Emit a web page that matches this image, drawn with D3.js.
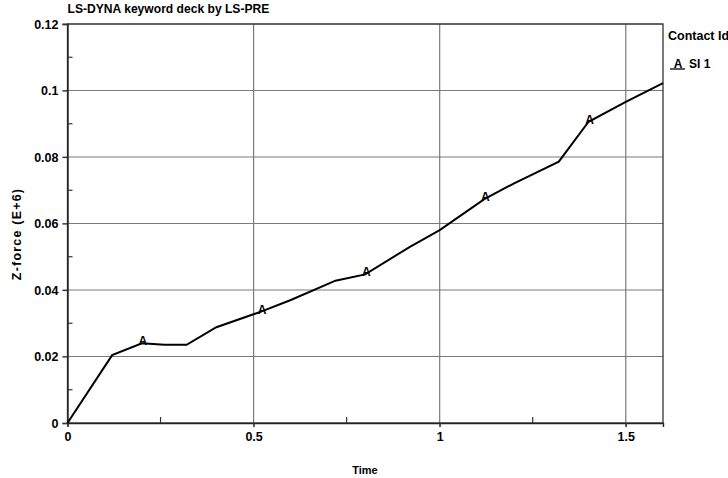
<!DOCTYPE html>
<html><head><meta charset="utf-8">
<script src="https://cdn.jsdelivr.net/npm/d3@7"></script>
<style>body{margin:0;background:#fff;}svg{display:block;font-family:"Liberation Sans",Arial,sans-serif;font-weight:bold;}</style>
</head><body>
<svg id="c" width="728" height="478"></svg>
<script>
const times  = [0, 0.12, 0.2, 0.26, 0.32, 0.4, 0.52, 0.6, 0.72, 0.8, 0.92, 1.0, 1.12, 1.2, 1.32, 1.4, 1.5, 1.6];
const zforce = [0, 0.0204, 0.024, 0.0235, 0.0235, 0.0288, 0.0335, 0.037, 0.0428, 0.0447, 0.053, 0.058, 0.0673, 0.0721, 0.0786, 0.0906, 0.0966, 0.1022];
const markerIdx = [2, 6, 9, 12, 15];
const xTicks = [0, 0.5, 1, 1.5];
const xMinor = [0.25, 0.75, 1.25];
const yTicks = [0, 0.02, 0.04, 0.06, 0.08, 0.1, 0.12];
const yMinor = [0.01, 0.03, 0.05, 0.07, 0.09, 0.11];
const title = "LS-DYNA keyword deck by LS-PRE";
const legendTitle = "Contact Id";
const seriesName = "SI 1";

const svg = d3.select("#c");
const L = 67.5, R = 663, T = 24, B = 423;
const x = d3.scaleLinear().domain([0, 1.6]).range([L, R]);
const y = d3.scaleLinear().domain([0, 0.12]).range([B, T]);

// grid
svg.append("g").selectAll("line").data(xTicks.slice(1)).join("line")
  .attr("x1", d => x(d)).attr("x2", d => x(d)).attr("y1", T).attr("y2", B + 4)
  .attr("stroke", "#7a7a7a").attr("stroke-width", 1.2);
svg.append("g").selectAll("line").data(yTicks.slice(1)).join("line")
  .attr("x1", L - 5).attr("x2", R).attr("y1", d => y(d)).attr("y2", d => y(d))
  .attr("stroke", "#7a7a7a").attr("stroke-width", 1.2);
// frame
svg.append("rect").attr("x", L).attr("y", T).attr("width", R - L).attr("height", B - T)
  .attr("fill", "none").attr("stroke", "#333").attr("stroke-width", 1.3);
// axes
const xAxis = d3.axisBottom(x).tickValues(xTicks).tickSize(4).tickPadding(5).tickFormat(d3.format("~g"));
const gx = svg.append("g").attr("transform", `translate(0,${B})`).call(xAxis);
const yAxis = d3.axisLeft(y).tickValues(yTicks).tickSize(5).tickPadding(4).tickFormat(d3.format("~g"));
const gy = svg.append("g").attr("transform", `translate(${L},0)`).call(yAxis);
[gx, gy].forEach(g => {
  g.select(".domain").attr("stroke", "#222").attr("stroke-width", 1.4);
  g.selectAll(".tick line").attr("stroke", "#333").attr("stroke-width", 1.2);
  g.selectAll("text").attr("fill", "#000").style("font-size", "12.5px").style("font-weight", "bold")
    .style("font-family", '"Liberation Sans",Arial,sans-serif');
});
// minor ticks (inward)
svg.append("g").selectAll("line").data(xMinor).join("line")
  .attr("x1", d => x(d)).attr("x2", d => x(d)).attr("y1", B).attr("y2", B - 6)
  .attr("stroke", "#333").attr("stroke-width", 1.2);
svg.append("g").selectAll("line").data(yMinor).join("line")
  .attr("x1", L).attr("x2", L + 5).attr("y1", d => y(d)).attr("y2", d => y(d))
  .attr("stroke", "#333").attr("stroke-width", 1.2);

// data line
const pts = times.map((t, i) => [t, zforce[i]]);
svg.append("path").datum(pts)
  .attr("d", d3.line().x(d => x(d[0])).y(d => y(d[1])))
  .attr("fill", "none").attr("stroke", "#000").attr("stroke-width", 2);
svg.append("g").selectAll("text").data(markerIdx).join("text")
  .attr("x", i => x(times[i]) + 1).attr("y", i => y(zforce[i]) + 2)
  .attr("text-anchor", "middle").style("font-size", "12px").text("A");

// titles
svg.append("text").attr("x", L).attr("y", 13).style("font-size", "12.1px").text(title);
svg.append("text").attr("x", 365).attr("y", 474).attr("text-anchor", "middle").style("font-size", "11px").text("Time");
svg.append("text").attr("transform", "translate(21,234) rotate(-90)").attr("text-anchor", "middle")
  .style("font-size", "12.5px").style("letter-spacing", "1.2px").text("Z-force (E+6)");
// legend
svg.append("text").attr("x", 668).attr("y", 40).style("font-size", "12.5px").text(legendTitle);
svg.append("line").attr("x1", 670).attr("x2", 685).attr("y1", 69).attr("y2", 69).attr("stroke", "#000").attr("stroke-width", 1.3);
svg.append("text").attr("x", 678).attr("y", 68).attr("text-anchor", "middle").style("font-size", "12px").text("A");
svg.append("text").attr("x", 689).attr("y", 68).style("font-size", "12px").text(seriesName);
</script>
</body></html>
